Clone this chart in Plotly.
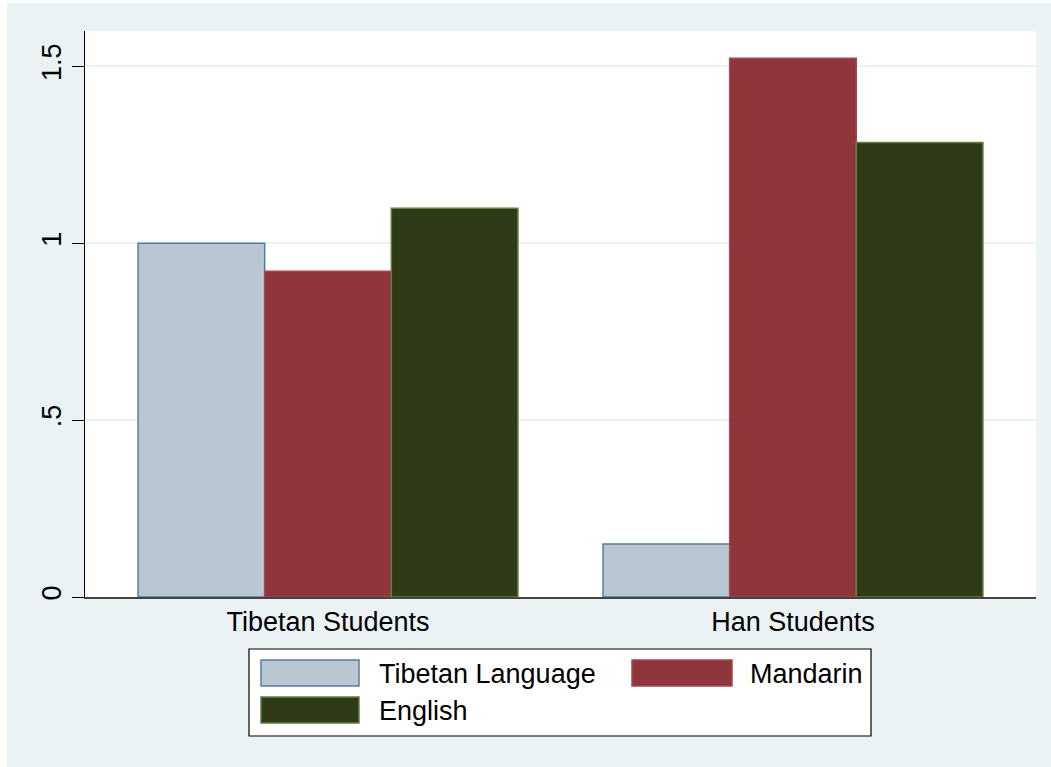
import plotly.graph_objects as go

# ---- data ----
categories = ["Tibetan Students", "Han Students"]
series_names = ["Tibetan Language", "Mandarin", "English"]
tibetan_language = [1.0, 0.15]
mandarin = [0.921, 1.523]
english = [1.099, 1.285]
y_tick_vals = [0, 0.5, 1, 1.5]
y_tick_text = ["0", ".5", "1", "1.5"]

series_values = [tibetan_language, mandarin, english]
fills = ["#B9C7D3", "#8F353C", "#2E3A18"]
borders = ["#5B7B9C", "#A5474E", "#627F3F"]

# page offset of the figure (reference has a thin white strip left/top)
OX, OY = 7, 3
W, H = 1051 - OX, 767 - OY
# plot area in page pixels
L, R, T, B = 85, 1036, 31, 597
BG = "#EAF2F3"
FONT = "Liberation Sans, Arial, sans-serif"
FS = 27

fig = go.Figure()
for name, vals, fc, lc in zip(series_names, series_values, fills, borders):
    fig.add_trace(go.Bar(
        x=categories, y=vals, name=name, showlegend=False,
        marker=dict(color=fc, line=dict(color=lc, width=1.5)),
    ))

def px_x(p):
    return (p - L) / (R - L)

def px_y(p):
    return (B - p) / (B - T)

shapes = []
annotations = []
# legend box
shapes.append(dict(type="rect", xref="paper", yref="paper",
                   x0=px_x(249), x1=px_x(871), y0=px_y(736), y1=px_y(649),
                   line=dict(color="#000000", width=1.2), fillcolor="#FFFFFF", layer="above"))
legend_slots = [
    (261, 359, 660, 686, 377),
    (632, 732, 660, 686, 748),
    (261, 359, 697, 723, 377),
]
for (sx0, sx1, sy0, sy1, tx), name, fc, lc in zip(legend_slots, series_names, fills, borders):
    shapes.append(dict(type="rect", xref="paper", yref="paper",
                       x0=px_x(sx0), x1=px_x(sx1), y0=px_y(sy1), y1=px_y(sy0),
                       line=dict(color=lc, width=1.5), fillcolor=fc, layer="above"))
    annotations.append(dict(xref="paper", yref="paper", x=px_x(tx), y=px_y((sy0 + sy1) / 2 + 1),
                            text=name, showarrow=False, xanchor="left", yanchor="middle",
                            font=dict(family=FONT, size=FS, color="#000000")))

fig.update_layout(
    width=W, height=H,
    margin=dict(l=L - OX, r=1051 - R, t=T - OY, b=767 - B, pad=0),
    paper_bgcolor=BG, plot_bgcolor="#FFFFFF",
    barmode="group", bargap=0.183, bargroupgap=0,
    font=dict(family=FONT, size=FS, color="#000000"),
    shapes=shapes, annotations=annotations,
    xaxis=dict(range=[-0.5226, 1.5226], showgrid=False, ticks="",
               showline=True, linecolor="#444444", linewidth=2,
               tickfont=dict(family=FONT, size=FS, color="#000000"), ticklabelstandoff=0),
    yaxis=dict(range=[0, 1.6], tickvals=y_tick_vals, ticktext=y_tick_text,
               tickangle=-90, ticks="outside", ticklen=12, tickcolor="#000000", tickwidth=1,
               showgrid=True, gridcolor=BG, gridwidth=2, zeroline=False,
               showline=True, linecolor="#000000", linewidth=1,
               tickfont=dict(family=FONT, size=FS, color="#000000")),
)

fig.write_html(
    "out.html",
    post_script="document.body.style.margin='%dpx 0 0 %dpx';document.body.style.overflow='hidden';" % (OY, OX),
)
